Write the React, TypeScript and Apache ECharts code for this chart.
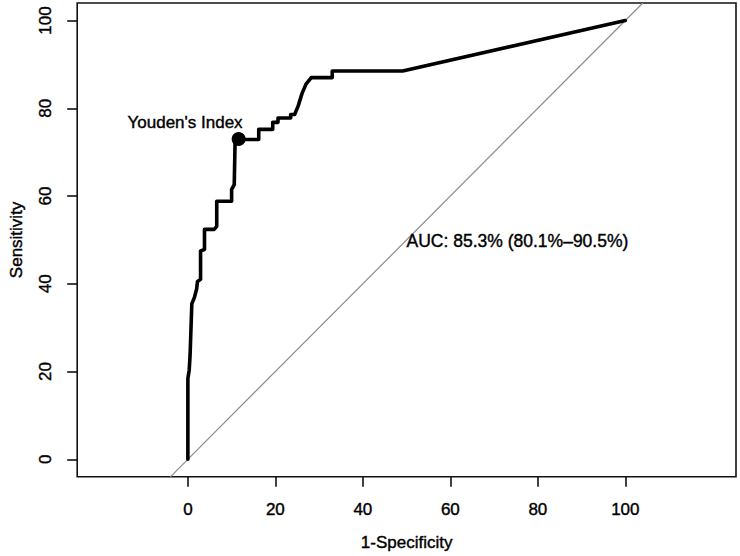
import React, { useEffect, useRef } from "react";
import * as echarts from "echarts";

const fpr = [0, 0, 0.3, 0.5, 0.9, 1.5, 2.0, 2.2, 2.9, 2.9, 3.8, 3.8, 6.0, 6.6, 6.6, 10.0, 10.0, 10.6, 10.8, 11.6, 16.2, 16.2, 19.4, 19.4, 20.6, 20.6, 23.5, 23.5, 24.4, 25.2, 26.1, 27.0, 28.2, 33.0, 33.0, 49.1, 100];
const tpr = [0, 18.4, 20.3, 23.6, 35.4, 36.9, 38.8, 40.5, 41.0, 47.5, 47.8, 52.4, 52.4, 53.1, 58.8, 58.8, 61.5, 62.6, 72.9, 72.9, 72.9, 75.2, 75.2, 76.8, 76.8, 77.8, 77.8, 78.6, 78.6, 80.5, 83.4, 85.5, 87.0, 87.0, 88.5, 88.5, 100];
const diagonal = [[-4, -4], [104, 104]];
const youden = [11.6, 73.0];
const youdenLabel = "Youden's Index";
const aucPoint = [50, 50];
const aucLabel = "AUC: 85.3% (80.1%\u201390.5%)";
const xTicks = [0, 20, 40, 60, 80, 100];
const yTicks = [0, 20, 40, 60, 80, 100];
const xTitle = "1-Specificity";
const yTitle = "Sensitivity";

const FONT = "'Liberation Sans', Arial, Helvetica, sans-serif";
const TXT = { color: "#000", fontFamily: FONT, textBorderColor: "#000", textBorderWidth: 0.4 };

export default function App() {
  const ref = useRef<HTMLDivElement>(null);
  useEffect(() => {
    if (!ref.current) return;
    const chart = echarts.init(ref.current, null, { renderer: "svg" });
    const roc = fpr.map((x, i) => [x, tpr[i]]);
    chart.setOption({
      animation: false,
      backgroundColor: "#fff",
      textStyle: { fontFamily: FONT },
      grid: {
        left: 73,
        top: 3,
        width: 663,
        height: 476,
        show: true,
        borderColor: "#111",
        borderWidth: 1.6,
        backgroundColor: "transparent",
      },
      xAxis: {
        type: "value",
        min: -25.3,
        max: 125.3,
        axisLine: { show: false, onZero: false },
        splitLine: { show: false },
        axisTick: {
          show: true,
          customValues: xTicks,
          length: 10,
          lineStyle: { color: "#111", width: 1.6 },
        },
        axisLabel: { customValues: xTicks, margin: 24, fontSize: 17, ...TXT },
        name: xTitle,
        nameLocation: "middle",
        nameGap: 57,
        nameTextStyle: { fontSize: 17, ...TXT },
      },
      yAxis: {
        type: "value",
        min: -4,
        max: 104,
        axisLine: { show: false, onZero: false },
        splitLine: { show: false },
        axisTick: {
          show: true,
          customValues: yTicks,
          length: 10,
          lineStyle: { color: "#111", width: 1.6 },
        },
        axisLabel: { customValues: yTicks, rotate: 90, margin: 23, fontSize: 17, ...TXT },
        name: yTitle,
        nameLocation: "middle",
        nameGap: 52,
        nameTextStyle: { fontSize: 17, ...TXT },
      },
      series: [
        {
          type: "line",
          data: diagonal,
          symbol: "none",
          silent: true,
          lineStyle: { color: "#8c8c8c", width: 1.2 },
          z: 1,
        },
        {
          type: "line",
          data: roc,
          symbol: "none",
          lineStyle: { color: "#000", width: 3.6, cap: "round", join: "round" },
          z: 2,
        },
        {
          type: "scatter",
          data: [youden],
          symbol: "circle",
          symbolSize: 14,
          itemStyle: { color: "#000", opacity: 1 },
          z: 3,
          label: {
            show: true,
            formatter: youdenLabel,
            position: [11, -9],
            align: "right",
            verticalAlign: "middle",
            fontSize: 17,
            ...TXT,
          },
        },
        {
          type: "scatter",
          data: [aucPoint],
          symbol: "circle",
          symbolSize: 0.1,
          itemStyle: { color: "rgba(0,0,0,0)", opacity: 1 },
          z: 3,
          label: {
            show: true,
            formatter: aucLabel,
            position: [0, -8],
            align: "left",
            verticalAlign: "top",
            fontSize: 17.5,
            ...TXT,
          },
        },
      ],
    });
    return () => chart.dispose();
  }, []);
  return (
    <div
      ref={ref}
      style={{ position: "fixed", left: 0, top: 0, width: 740, height: 556, background: "#fff" }}
    />
  );
}
